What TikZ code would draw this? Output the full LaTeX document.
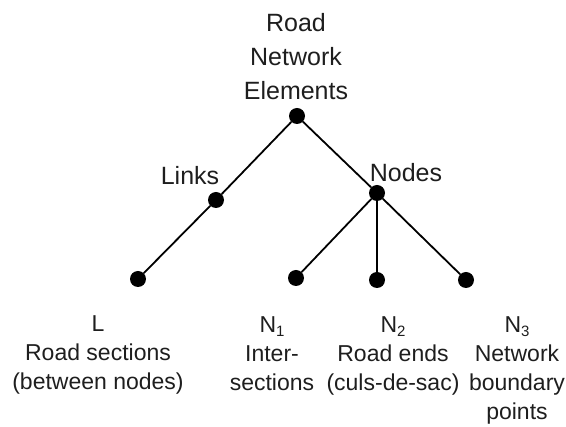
\documentclass[tikz,border=0pt]{standalone}
\usepackage{fontspec}
\setmainfont{Liberation Sans}
\definecolor{txt}{RGB}{30,30,30}
\newcommand{\subnum}[1]{\raisebox{-0.2em}{\fontsize{15}{15}\selectfont #1}}
\begin{document}
\begin{tikzpicture}[x=1pt,y=-1pt,
  dot/.style={circle,fill=black,inner sep=0pt,minimum size=16pt},
  edge/.style={line width=1.8pt,black},
  lbl/.style={font=\fontsize{23}{29}\selectfont, text=txt, align=center, inner sep=0pt, anchor=north},
  toplbl/.style={lbl, font=\fontsize{25}{34}\selectfont},
  word/.style={font=\fontsize{25}{29}\selectfont, text=txt, inner sep=0pt, anchor=base}]
\useasboundingbox (0,0) rectangle (566,427);

% labels
\node[toplbl] (title) at (296,13.2) {Road\\Network\\Elements};
\node[word] (linkslbl) at (190,185) {Links};
\node[word] (nodeslbl) at (406,182) {Nodes};
\node[lbl] (llbl) at (98,315.5) {L\\Road sections\\(between nodes)};
\node[lbl] (n1lbl) at (272,316) {N\subnum{1}\\Inter-\\sections};
\node[lbl] (n2lbl) at (393,316) {N\subnum{2}\\Road ends\\(culs-de-sac)};
\node[lbl] (n3lbl) at (517,316) {N\subnum{3}\\Network\\boundary\\points};

% dots
\node[dot] (root) at (297,116) {};
\node[dot] (links) at (216,200) {};
\node[dot] (nodes) at (377,193) {};
\node[dot] (l) at (138,279) {};
\node[dot] (n1) at (296,278) {};
\node[dot] (n2) at (377,280) {};
\node[dot] (n3) at (466,280) {};

% edges
\draw[edge] (root) -- (links);
\draw[edge] (links) -- (l);
\draw[edge] (root) -- (nodes);
\draw[edge] (nodes) -- (n1);
\draw[edge] (nodes) -- (n2);
\draw[edge] (nodes) -- (n3);
\end{tikzpicture}
\end{document}
